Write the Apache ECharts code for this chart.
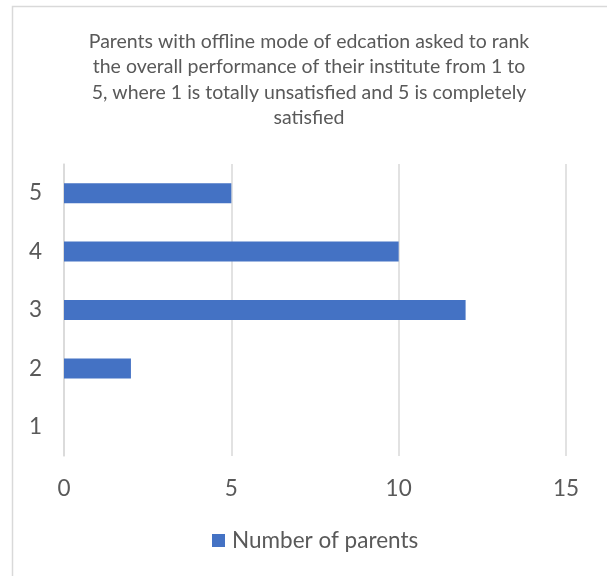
<!DOCTYPE html>
<html>
<head>
<meta charset="utf-8">
<script src="https://cdn.jsdelivr.net/npm/echarts@6/dist/echarts.min.js"></script>
<style>
  html, body { margin: 0; padding: 0; background: #fff; }
  #chart { width: 607px; height: 576px; }
</style>
</head>
<body>
<div id="chart"></div>
<script>
// Ratings given by parents (1 = totally unsatisfied, 5 = completely satisfied)
const ratings = ['1', '2', '3', '4', '5'];
const parentCounts = [0, 2, 12, 10, 5];
const xTicks = { min: 0, max: 15, interval: 5 };
const seriesName = 'Number of parents';
const titleText = 'Parents with offline mode of edcation asked to rank\nthe overall performance of their institute from 1 to\n5, where 1 is totally unsatisfied and 5 is completely\nsatisfied';

const font = 'Lato, "Open Sans", sans-serif';
const textColor = '#595959';
const gridColor = '#d9d9d9';

const chart = echarts.init(document.getElementById('chart'), null, { renderer: 'canvas' });
chart.setOption({
  animation: false,
  backgroundColor: '#fff',
  graphic: [{
    type: 'rect',
    shape: { x: 12.5, y: 6.5, width: 620, height: 620 },
    style: { fill: 'none', stroke: gridColor, lineWidth: 1.5 },
    silent: true,
    z: -1
  }],
  title: {
    text: titleText,
    left: 304,
    top: 24,
    textAlign: 'center',
    textStyle: {
      fontFamily: font,
      fontSize: 19.5,
      fontWeight: 'normal',
      color: textColor,
      lineHeight: 25.3
    }
  },
  legend: {
    data: [seriesName],
    bottom: 19,
    left: 207,
    icon: 'rect',
    itemWidth: 13,
    itemHeight: 13,
    itemGap: 6,
    textStyle: { fontFamily: font, fontSize: 22.5, color: textColor, padding: [0, 0, 0, 2] }
  },
  grid: { left: 64, right: 41, top: 164, bottom: 120, containLabel: false },
  xAxis: {
    type: 'value',
    min: xTicks.min,
    max: xTicks.max,
    interval: xTicks.interval,
    axisLine: { show: false },
    axisTick: { show: false },
    splitLine: { lineStyle: { color: gridColor, width: 1.5 } },
    axisLabel: { fontFamily: font, fontSize: 22.5, color: textColor, margin: 21 }
  },
  yAxis: {
    type: 'category',
    data: ratings,
    axisLine: { show: true, lineStyle: { color: gridColor, width: 1.5 } },
    axisTick: { show: false },
    axisLabel: { fontFamily: font, fontSize: 22.5, color: textColor, margin: 22 }
  },
  series: [{
    name: seriesName,
    type: 'bar',
    data: parentCounts,
    barWidth: 20,
    itemStyle: { color: '#4472c4' }
  }]
});
</script>
</body>
</html>
